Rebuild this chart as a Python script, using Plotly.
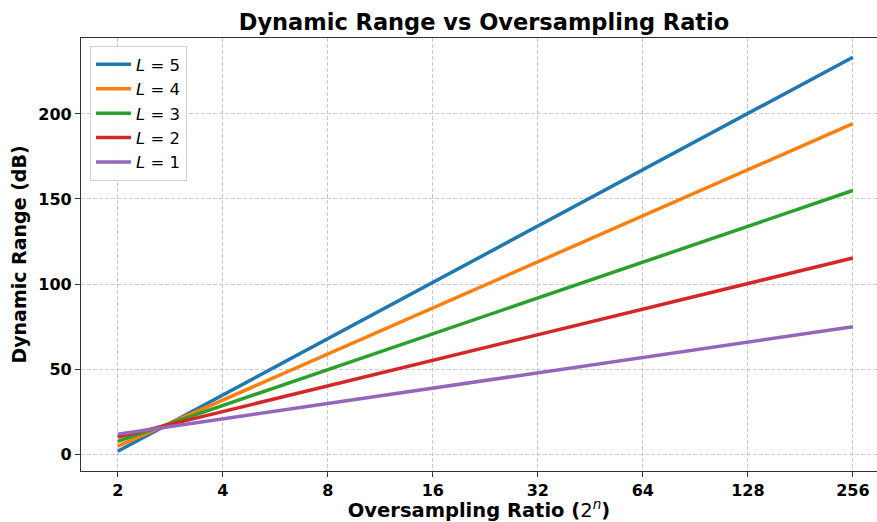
import plotly.graph_objects as go

# Oversampling ratios (powers of two)
osr = [2, 4, 8, 16, 32, 64, 128, 256]

# Dynamic range (dB) per modulator order L
dr_l5 = [1.59, 34.71, 67.82, 100.93, 134.05, 167.16, 200.27, 233.39]
dr_l4 = [4.64, 31.74, 58.83, 85.92, 113.01, 140.10, 167.19, 194.28]
dr_l3 = [7.47, 28.54, 49.62, 70.69, 91.76, 112.83, 133.90, 154.98]
dr_l2 = [9.93, 24.98, 40.03, 55.08, 70.13, 85.18, 100.24, 115.29]
dr_l1 = [11.64, 20.67, 29.70, 38.73, 47.77, 56.80, 65.83, 74.86]

series = [
    ("5", dr_l5, "#1f77b4"),
    ("4", dr_l4, "#ff7f0e"),
    ("3", dr_l3, "#2ca02c"),
    ("2", dr_l2, "#d62728"),
    ("1", dr_l1, "#9467bd"),
]

x_ticks = [2, 4, 8, 16, 32, 64, 128, 256]
x_tick_text = ["2", "4", "8", "16", "32", "64", "128", "256"]
y_ticks = [0, 50, 100, 150, 200]

fig = go.Figure()
for order, vals, color in series:
    fig.add_trace(go.Scatter(
        x=osr, y=vals, mode="lines",
        name=f"<i>L</i> = {order}",
        line=dict(color=color, width=3.5),
    ))

font_family = "DejaVu Sans"
grid_color = "rgba(160,160,160,0.55)"

fig.update_layout(
    width=877, height=522,
    margin=dict(l=81, r=0, t=38, b=51),
    paper_bgcolor="white",
    plot_bgcolor="white",
    font=dict(family=font_family, color="black"),
    title=dict(
        text="<b>Dynamic Range vs Oversampling Ratio</b>",
        font=dict(size=22.5, family=font_family),
        x=484 / 877, xanchor="center", xref="container",
        y=1 - 22 / 522, yanchor="middle",
    ),
    legend=dict(
        x=0.0113, y=0.9815, xanchor="left", yanchor="top",
        bgcolor="rgba(255,255,255,0.8)",
        bordercolor="#d0d0d0", borderwidth=1,
        font=dict(size=16.5, family=font_family),
        tracegroupgap=0, itemwidth=35,
    ),
    showlegend=True,
)

fig.update_xaxes(
    type="log",
    range=[0.65 * 0.30103, 8.23 * 0.30103],
    tickvals=x_ticks, ticktext=x_tick_text,
    tickfont=dict(size=16, family=font_family, weight="bold"),
    ticks="outside", ticklen=5, tickwidth=1, tickcolor="#333",
    showline=True, linecolor="#333", linewidth=1.2, mirror=True,
    showgrid=True, gridcolor=grid_color, griddash="4px,2px", gridwidth=1,
    zeroline=False,
    title=dict(text="<b>Oversampling Ratio (</b>2<sup><i>n</i></sup><b>)</b>",
               font=dict(size=19.5, family=font_family), standoff=4),
)

fig.update_yaxes(
    range=[-10.0, 244.7],
    tickvals=y_ticks,
    tickfont=dict(size=16, family=font_family, weight="bold"),
    ticks="outside", ticklen=5, tickwidth=1, tickcolor="#333",
    showline=True, linecolor="#333", linewidth=1.2, mirror=False,
    showgrid=True, gridcolor=grid_color, griddash="4px,2px", gridwidth=1,
    zeroline=False,
    title=dict(text="<b>Dynamic Range (dB)</b>",
               font=dict(size=19, family=font_family), standoff=6),
)

fig.write_html("out.html")
